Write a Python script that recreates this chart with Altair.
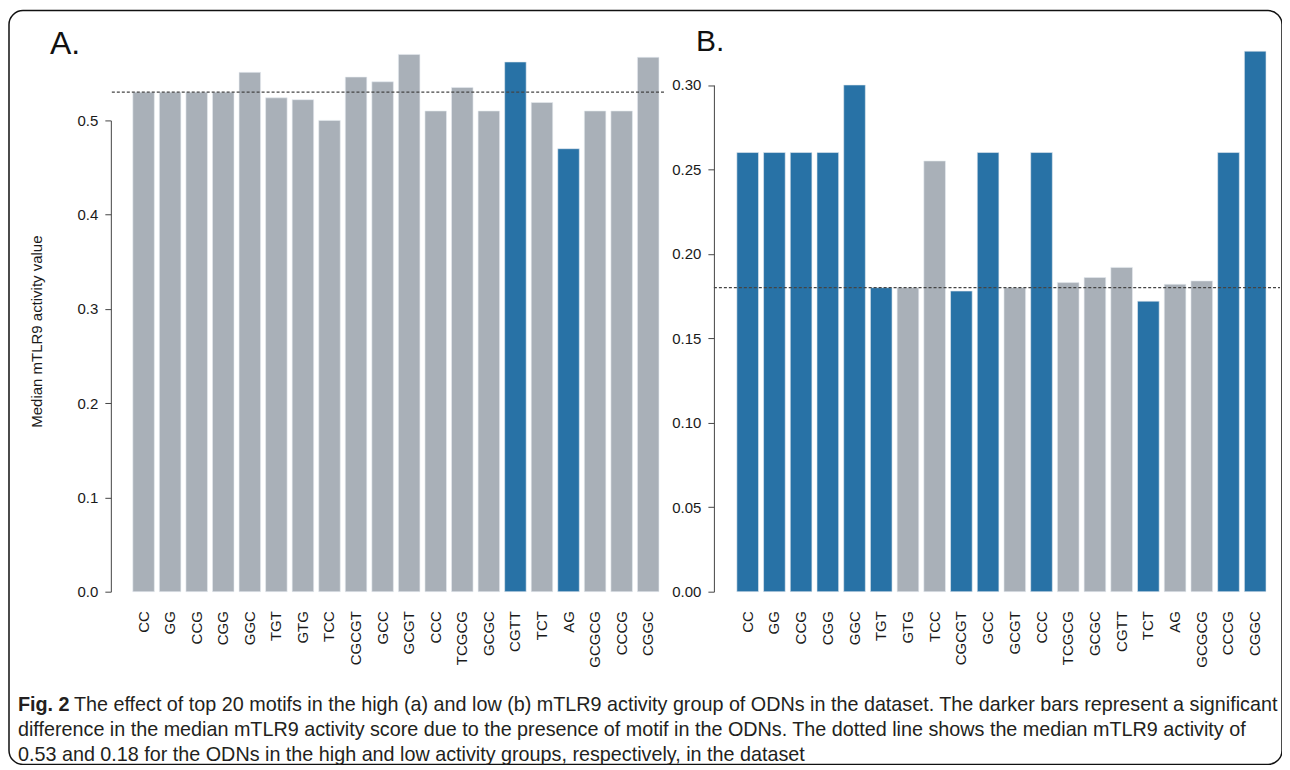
import altair as alt
import pandas as pd

motifs = ["CC", "GG", "CCG", "CGG", "GGC", "TGT", "GTG", "TCC", "CGCGT", "GCC",
          "GCGT", "CCC", "TCGCG", "GCGC", "CGTT", "TCT", "AG", "GCGCG", "CCCG", "CGGC"]

high_values = [0.530, 0.530, 0.530, 0.530, 0.551, 0.524, 0.522, 0.500, 0.546, 0.541,
               0.570, 0.510, 0.535, 0.510, 0.562, 0.519, 0.470, 0.510, 0.510, 0.567]
high_significant = [0, 0, 0, 0, 0, 0, 0, 0, 0, 0, 0, 0, 0, 0, 1, 0, 1, 0, 0, 0]

low_values = [0.260, 0.260, 0.260, 0.260, 0.300, 0.180, 0.180, 0.255, 0.178, 0.260,
              0.180, 0.260, 0.183, 0.186, 0.192, 0.172, 0.182, 0.184, 0.260, 0.320]
low_significant = [1, 1, 1, 1, 1, 1, 0, 0, 1, 1, 0, 1, 0, 0, 0, 1, 0, 0, 1, 1]

high_median = 0.53
low_median = 0.18

high_ticks = [0.0, 0.1, 0.2, 0.3, 0.4, 0.5]
low_ticks = [0.00, 0.05, 0.10, 0.15, 0.20, 0.25, 0.30]

y_title = "Median mTLR9 activity value"
caption_bold = "Fig. 2"
caption_lines = [
    "The effect of top 20 motifs in the high (a) and low (b) mTLR9 activity group of ODNs in the dataset. The darker bars represent a significant",
    "difference in the median mTLR9 activity score due to the presence of motif in the ODNs. The dotted line shows the median mTLR9 activity of",
    "0.53 and 0.18 for the ODNs in the high and low activity groups, respectively, in the dataset",
]

GREY = "#A9B0B8"
BLUE = "#2872A6"
FONT = "Liberation Sans"
CAP_FONT = "Liberation Sans"
CAP_SIZE = 19.8
INK = "#1a1a1a"

W, H = 1275, 755


def panel(values, sig, median, ticks, fmt, x_range, y_range, axis_x, rule_x, title):
    df = pd.DataFrame({
        "motif": motifs,
        "value": values,
        "group": ["significant" if s else "not significant" for s in sig],
    })
    if title:
        y_axis = alt.Axis(
            orient="left", offset=-axis_x, values=ticks, format=fmt,
            tickSize=6, tickColor="#444", tickWidth=1,
            domainColor="#444", domainWidth=1,
            labelPadding=7, labelFontSize=15, labelFont=FONT, labelColor=INK,
            grid=False,
            title=title, titleFont=FONT, titleFontSize=15, titleFontWeight="normal",
            titleColor=INK, titlePadding=33, titleY=321,
        )
    else:
        y_axis = alt.Axis(
            orient="left", offset=-axis_x, values=ticks, format=fmt,
            tickSize=6, tickColor="#444", tickWidth=1,
            domainColor="#444", domainWidth=1,
            labelPadding=7, labelFontSize=15, labelFont=FONT, labelColor=INK,
            grid=False, title=None,
        )
    bars = alt.Chart(df).mark_bar(stroke="#e6ebf0", strokeWidth=0.6).encode(
        x=alt.X(
            "motif:N", sort=motifs,
            scale=alt.Scale(range=x_range, paddingInner=0.19, paddingOuter=0),
            axis=alt.Axis(
                orient="bottom", offset=-(H - y_range[0]), labelAngle=270,
                labelAlign="right", labelBaseline="middle",
                domain=False, ticks=False, labelPadding=19,
                labelFontSize=15, labelFont=FONT, labelColor=INK, title=None,
            ),
        ),
        y=alt.Y(
            "value:Q",
            scale=alt.Scale(domain=[ticks[0], ticks[-1]], range=y_range, nice=False, zero=False),
            axis=y_axis,
        ),
        color=alt.Color(
            "group:N",
            scale=alt.Scale(domain=["not significant", "significant"], range=[GREY, BLUE]),
            legend=None,
        ),
    )
    rule = alt.Chart(pd.DataFrame({"m": [median]})).mark_rule(
        strokeDash=[3, 2], color="#444", strokeWidth=1.3
    ).encode(
        y=alt.datum(median),
        x=alt.value(rule_x[0]),
        x2=alt.value(rule_x[1]),
    )
    return alt.layer(bars, rule)


panel_a = panel(high_values, high_significant, high_median, high_ticks, ".1f",
                [124, 651], [582, 110], 102, [103, 658], y_title)
panel_b = panel(low_values, low_significant, low_median, low_ticks, ".2f",
                [729, 1259], [582, 74.5], 706, [706, 1273], None)

one = pd.DataFrame({"k": [0]})
label_a = alt.Chart(one).mark_text(
    text="A.", font=FONT, fontSize=32, align="left", baseline="alphabetic", color="#111"
).encode(x=alt.value(41), y=alt.value(43))
label_b = alt.Chart(one).mark_text(
    text="B.", font=FONT, fontSize=30, align="left", baseline="alphabetic", color="#111"
).encode(x=alt.value(688), y=alt.value(40))

cap_first = pd.DataFrame({"line": [caption_lines[0]]})
caption_first = alt.Chart(cap_first).mark_text(
    font=CAP_FONT, fontSize=CAP_SIZE, align="left", baseline="middle", color="#231F20"
).encode(
    text="line:N",
    x=alt.value(65),
    y=alt.value(696),
)
cap_rest = pd.DataFrame({"line": [caption_lines[1], caption_lines[2]], "row": [1, 2]})
caption_rest = alt.Chart(cap_rest).mark_text(
    font=CAP_FONT, fontSize=CAP_SIZE, align="left", baseline="middle", color="#231F20"
).encode(
    text="line:N",
    x=alt.value(9),
    y=alt.Y("row:Q", scale=alt.Scale(domain=[1, 2], range=[721, 745.5]), axis=None),
)
caption_fig = alt.Chart(one).mark_text(
    text=caption_bold, font=CAP_FONT, fontSize=CAP_SIZE, fontWeight="bold",
    align="left", baseline="middle", color="#231F20"
).encode(x=alt.value(9), y=alt.value(696))

chart = alt.layer(
    panel_a, panel_b, label_a, label_b, caption_fig, caption_first, caption_rest
).resolve_scale(
    x="independent", y="independent"
).resolve_axis(
    x="independent", y="independent"
).properties(
    width=W, height=H,
    autosize=alt.AutoSizeParams(type="none"),
    padding={"left": 1, "top": 2, "right": 0, "bottom": 0},
).configure_view(
    stroke="#111", strokeWidth=1.5, cornerRadius=14
)

chart.save("out.html", embed_options={"renderer": "svg", "actions": False})
